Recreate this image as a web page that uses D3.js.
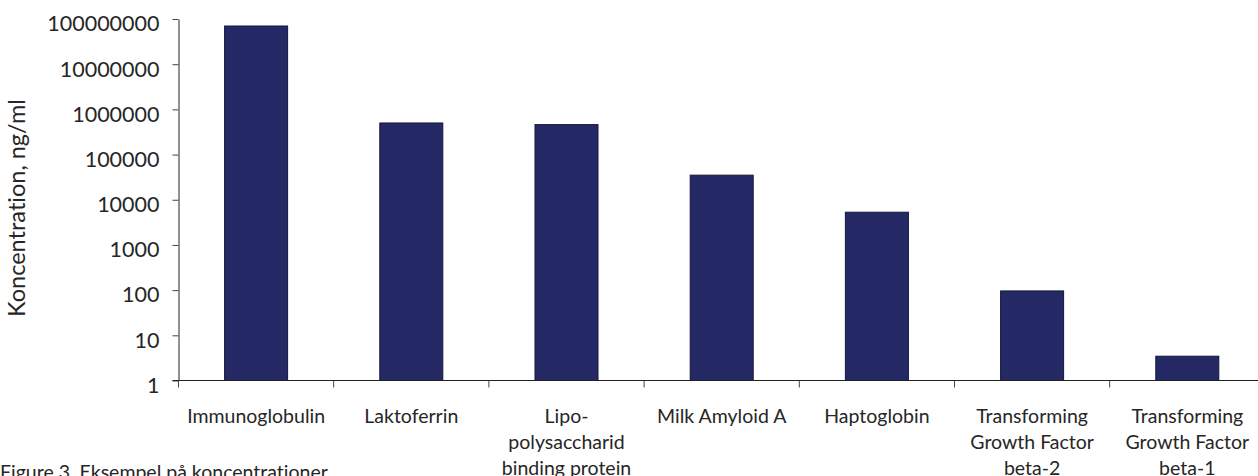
<!DOCTYPE html>
<html lang="da">
<head>
<meta charset="UTF-8">
<title>Koncentration</title>
<style>
  html, body { margin: 0; padding: 0; background: #fff; }
  svg { display: block; }
  text { font-family: Lato, "Open Sans", sans-serif; font-weight: 400; fill: #262626; font-variant-ligatures: none; }
</style>
</head>
<body>
<svg id="chart" width="1258" height="476"></svg>
<script src="https://d3js.org/d3.v7.min.js"></script>
<script>
// data (ng/ml, log axis)
var categories = [
  ["Immunoglobulin"],
  ["Laktoferrin"],
  ["Lipo-", "polysaccharid", "binding protein"],
  ["Milk Amyloid A"],
  ["Haptoglobin"],
  ["Transforming", "Growth Factor", "beta-2"],
  ["Transforming", "Growth Factor", "beta-1"]
];
var values = [70000000, 500000, 460000, 35000, 5300, 96, 3.45];
var yTicks = [1, 10, 100, 1000, 10000, 100000, 1000000, 10000000, 100000000];

var svg = d3.select("#chart");

var plotLeft = 178.5, plotTop = 19, plotBottom = 380.5;
var step = 155.2;
var plotRight = plotLeft + step * categories.length;

var x = d3.scaleBand()
  .domain(d3.range(categories.length))
  .range([plotLeft, plotRight])
  .padding(0);

var y = d3.scaleLog()
  .domain([1, 100000000])
  .range([plotBottom, plotTop]);

var barFrac = 0.406;

// bars
svg.append("g").selectAll("rect")
  .data(values)
  .join("rect")
  .attr("x", function(d, i) { return x(i) + x.bandwidth() * (1 - barFrac) / 2; })
  .attr("width", x.bandwidth() * barFrac)
  .attr("y", function(d) { return y(d); })
  .attr("height", function(d) { return y(1) - y(d); })
  .attr("fill", "#242865")
  .attr("stroke", "#15173a")
  .attr("stroke-width", 1);

// y axis
var yAxis = svg.append("g")
  .attr("transform", "translate(" + plotLeft + ",0)")
  .call(d3.axisLeft(y).tickValues(yTicks).tickFormat(d3.format("d")).tickSize(6).tickPadding(13).tickSizeOuter(0));
yAxis.select(".domain").attr("stroke", "#222");
yAxis.selectAll(".tick line").attr("stroke", "#444");
yAxis.selectAll(".tick text")
  .attr("dy", "0.55em")
  .style("font-size", "21.5px")
  .style("font-family", "Lato, 'Open Sans', sans-serif")
  .attr("fill", "#262626");

// x axis line
svg.append("line")
  .attr("x1", plotLeft - 6).attr("x2", plotRight)
  .attr("y1", y(1)).attr("y2", y(1))
  .attr("stroke", "#222");

// category boundary ticks
var bounds = d3.range(categories.length + 1);
svg.append("g").selectAll("line")
  .data(bounds)
  .join("line")
  .attr("x1", function(d) { return d < categories.length ? x(d) : x(d - 1) + x.bandwidth(); })
  .attr("x2", function(d) { return d < categories.length ? x(d) : x(d - 1) + x.bandwidth(); })
  .attr("y1", y(1))
  .attr("y2", y(1) + 7)
  .attr("stroke", "#444");

// category labels
var labels = svg.append("g").selectAll("text")
  .data(categories)
  .join("text")
  .attr("text-anchor", "middle")
  .style("font-size", "19.5px")
  .attr("transform", function(d, i) { return "translate(" + (x(i) + x.bandwidth() / 2) + "," + (y(1) + 42) + ")"; });
labels.selectAll("tspan")
  .data(function(d) { return d; })
  .join("tspan")
  .attr("x", 0)
  .attr("y", function(d, i) { return i * 26; })
  .text(function(d) { return d; });

// y axis title
svg.append("text")
  .attr("transform", "translate(25,208) rotate(-90)")
  .attr("text-anchor", "middle")
  .style("font-size", "23.5px")
  .text("Koncentration, ng/ml");

// caption, cut off at the bottom edge
svg.append("text")
  .attr("x", 0)
  .attr("y", 478.5)
  .style("font-size", "19.5px")
  .text("Figure 3. Eksempel på koncentrationer");
</script>
</body>
</html>
